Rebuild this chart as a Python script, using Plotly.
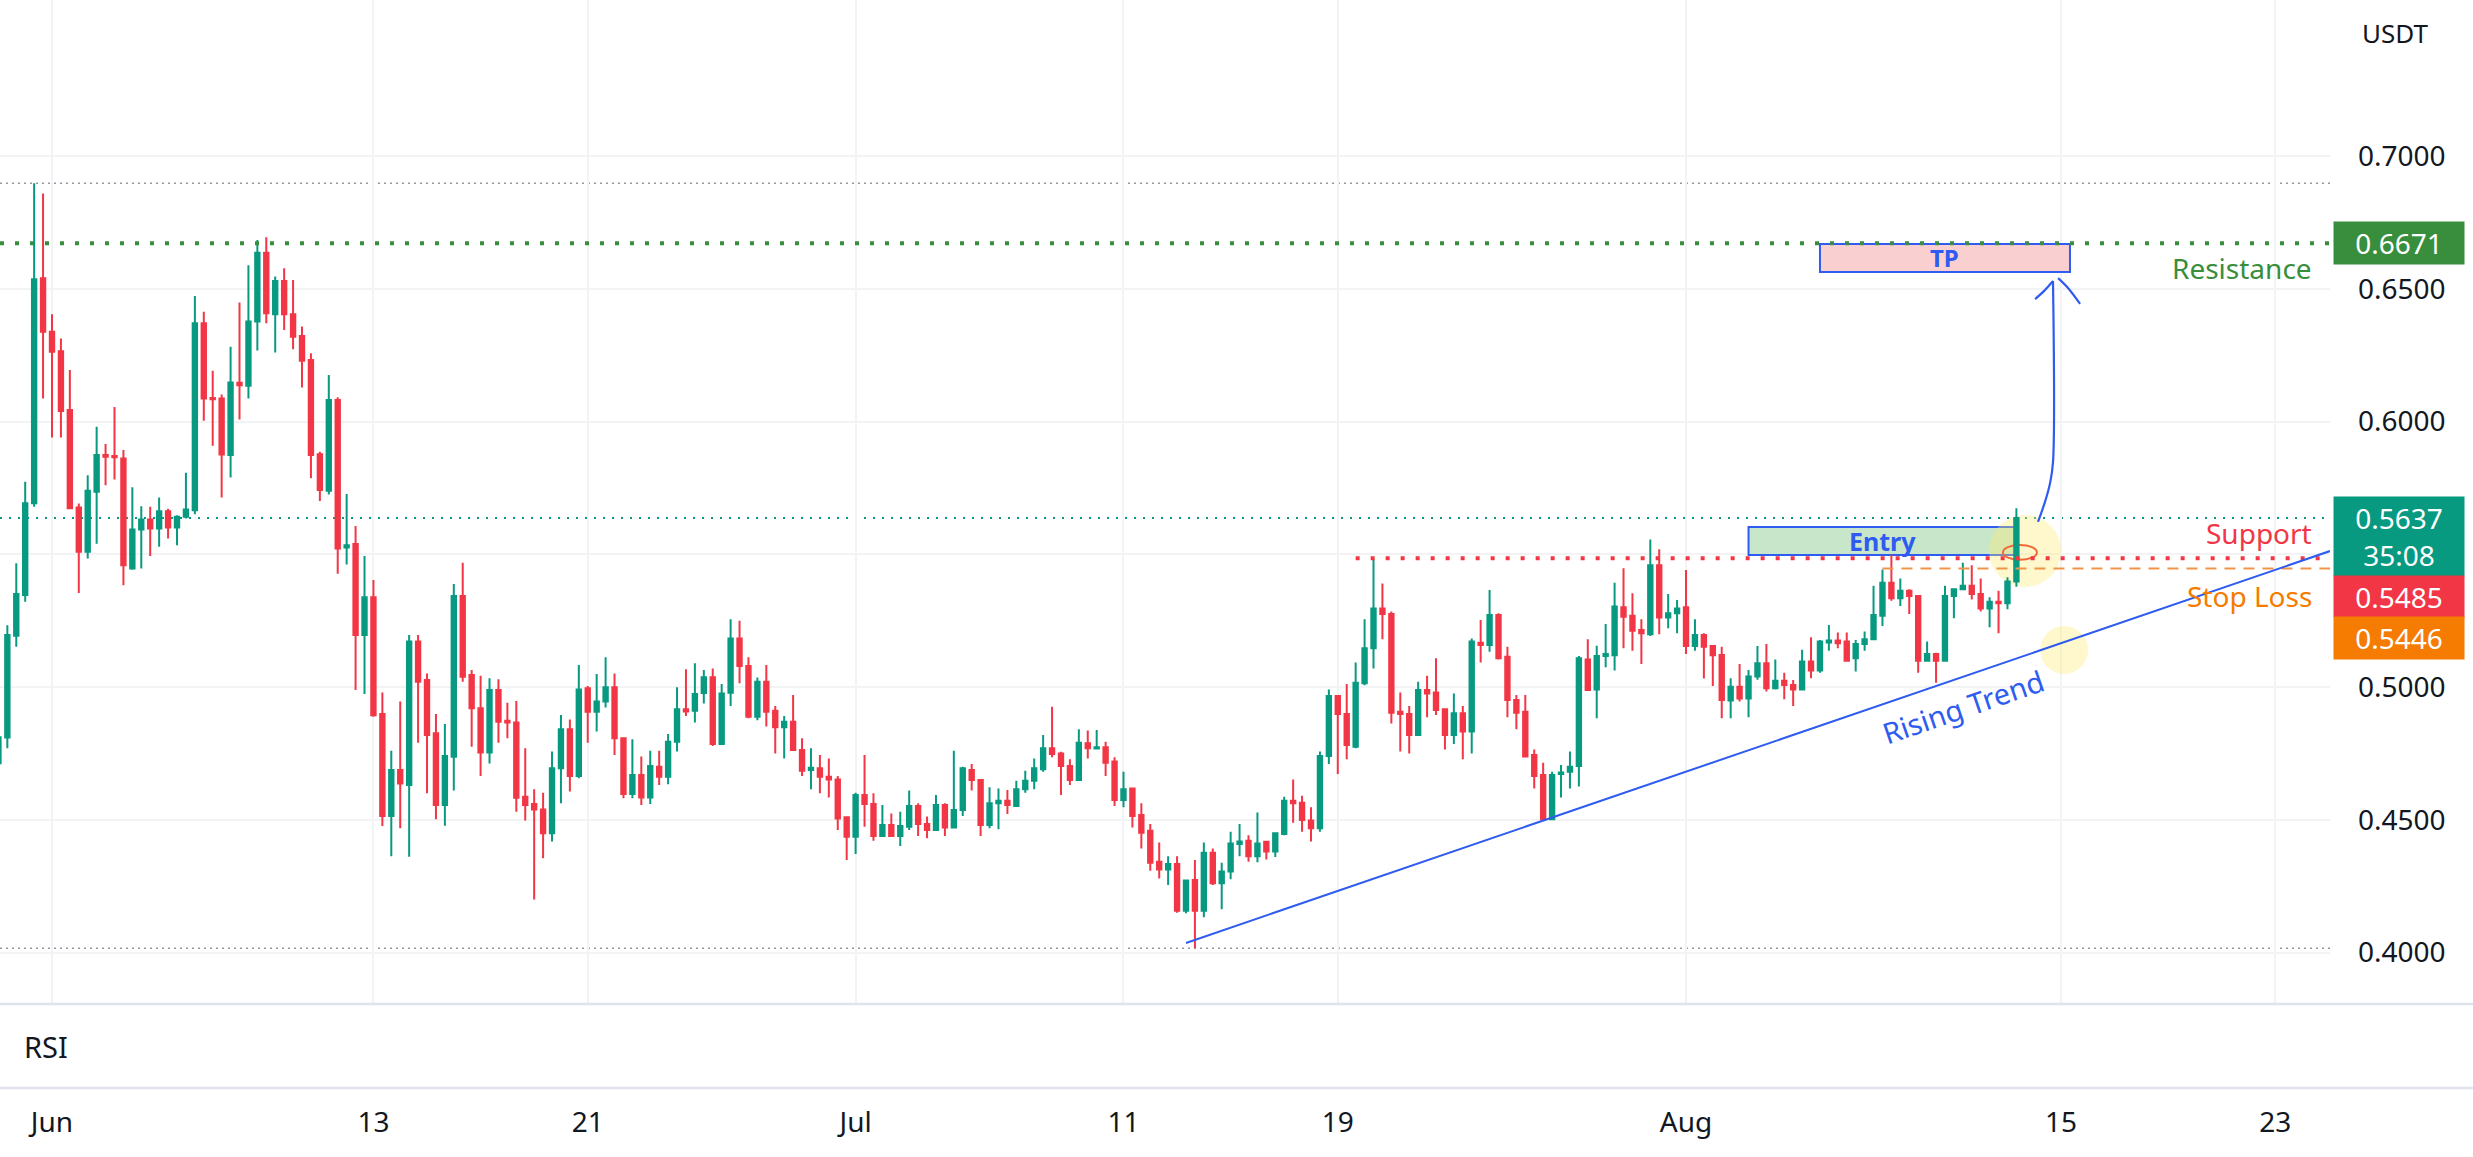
import pandas as pd
import plotly.graph_objects as go

# ------------------------------------------------------------------
# DATA  (8h candles, first candle 2023-05-30 00:00)
# ------------------------------------------------------------------
first_candle = "2023-05-30 00:00"

opens = [
    0.4713, 0.4810, 0.5193, 0.5347, 0.5692, 0.6540,
    0.6338, 0.6265, 0.6043, 0.5676, 0.5509, 0.5735, 0.5874, 0.5870, 0.5861, 0.5446,
    0.5593, 0.5631, 0.5597, 0.5662, 0.5601, 0.5641, 0.5666, 0.6370, 0.6089, 0.6087,
    0.5874, 0.6146, 0.6135, 0.6377, 0.6636, 0.6404, 0.6529, 0.6404, 0.6322, 0.6232,
    0.5877, 0.5739, 0.6081, 0.5525, 0.5539, 0.5196, 0.5338, 0.4898, 0.4514, 0.4687,
    0.4631, 0.5171, 0.5026, 0.4826, 0.4556, 0.4737, 0.5343, 0.5045, 0.4920, 0.4753,
    0.4989, 0.4873, 0.4866, 0.4587, 0.4559, 0.4539, 0.4449, 0.4694, 0.4841, 0.4665,
    0.4995, 0.4907, 0.4945, 0.4999, 0.4807, 0.4597, 0.4669, 0.4584, 0.4700, 0.4662,
    0.4794, 0.4916, 0.4911, 0.4977, 0.5037, 0.4785, 0.4978, 0.5183, 0.5079, 0.4888,
    0.5020, 0.4911, 0.4848, 0.4869, 0.4763, 0.4687, 0.4694, 0.4662, 0.4652, 0.4509,
    0.4436, 0.4593, 0.4559, 0.4439, 0.4480, 0.4439, 0.4474, 0.4552, 0.4484, 0.4461,
    0.4556, 0.4471, 0.4537, 0.4687, 0.4650, 0.4480, 0.4562, 0.4572, 0.4552, 0.4615,
    0.4647, 0.4690, 0.4769, 0.4750, 0.4702, 0.4650, 0.4788, 0.4768, 0.4773, 0.4719,
    0.4574, 0.4618, 0.4518, 0.4459, 0.4342, 0.4313, 0.4333, 0.4157, 0.4273, 0.4157,
    0.4376, 0.4261, 0.4305, 0.4409, 0.4421, 0.4363, 0.4417, 0.4380, 0.4446, 0.4572,
    0.4564, 0.4497, 0.4468, 0.4740, 0.4966, 0.4898, 0.4775, 0.5014, 0.5146, 0.5296,
    0.5275, 0.4907, 0.4898, 0.4819, 0.4989, 0.4979, 0.4916, 0.4819, 0.4901, 0.4832,
    0.5167, 0.5158, 0.5271, 0.5114, 0.4951, 0.4907, 0.4744, 0.4669, 0.4502, 0.4672,
    0.4681, 0.4702, 0.5104, 0.4991, 0.5117, 0.5120, 0.5300, 0.5268, 0.5215, 0.5199,
    0.5459, 0.5262, 0.5278, 0.5300, 0.5154, 0.5196, 0.5154, 0.5121, 0.4949, 0.5001,
    0.4957, 0.5040, 0.5089, 0.4995, 0.5024, 0.5008, 0.4991, 0.5096, 0.5062, 0.5168,
    0.5175, 0.5171, 0.5108, 0.5162, 0.5180, 0.5268, 0.5393, 0.5334, 0.5363, 0.5343,
    0.5099, 0.5124, 0.5099, 0.5343, 0.5368, 0.5381, 0.5350, 0.5296, 0.5321, 0.5315,
    0.5397,
]
highs = [
    0.4830, 0.5233, 0.5466, 0.5773, 0.6897, 0.6859,
    0.6404, 0.6313, 0.6194, 0.5691, 0.5798, 0.5980, 0.5915, 0.6055, 0.5893, 0.5752,
    0.5681, 0.5679, 0.5714, 0.5671, 0.5647, 0.5807, 0.6473, 0.6413, 0.6191, 0.6102,
    0.6282, 0.6448, 0.6589, 0.6684, 0.6694, 0.6546, 0.6577, 0.6533, 0.6358, 0.6257,
    0.5886, 0.6175, 0.6091, 0.5727, 0.5606, 0.5493, 0.5403, 0.4979, 0.4760, 0.4945,
    0.5196, 0.5196, 0.5051, 0.4898, 0.4861, 0.5388, 0.5468, 0.5064, 0.5042, 0.5033,
    0.5029, 0.4941, 0.4947, 0.4769, 0.4615, 0.4602, 0.4757, 0.4895, 0.4878, 0.5083,
    0.5004, 0.5049, 0.5112, 0.5051, 0.4807, 0.4803, 0.4738, 0.4760, 0.4760, 0.4823,
    0.4999, 0.5067, 0.5089, 0.5064, 0.5070, 0.5011, 0.5255, 0.5250, 0.5112, 0.5036,
    0.5083, 0.4928, 0.4891, 0.4970, 0.4807, 0.4769, 0.4744, 0.4731, 0.4665, 0.4511,
    0.4602, 0.4744, 0.4600, 0.4556, 0.4524, 0.4530, 0.4610, 0.4562, 0.4512, 0.4593,
    0.4562, 0.4760, 0.4700, 0.4710, 0.4652, 0.4622, 0.4618, 0.4612, 0.4647, 0.4685,
    0.4731, 0.4819, 0.4926, 0.4756, 0.4728, 0.4841, 0.4836, 0.4838, 0.4794, 0.4735,
    0.4681, 0.4618, 0.4562, 0.4484, 0.4414, 0.4363, 0.4363, 0.4273, 0.4348, 0.4414,
    0.4392, 0.4338, 0.4455, 0.4484, 0.4442, 0.4527, 0.4421, 0.4452, 0.4587, 0.4652,
    0.4590, 0.4547, 0.4757, 0.4991, 0.4970, 0.5011, 0.5092, 0.5255, 0.5481, 0.5390,
    0.5284, 0.4979, 0.4928, 0.5020, 0.5042, 0.5108, 0.4920, 0.4976, 0.4928, 0.5183,
    0.5252, 0.5365, 0.5278, 0.5152, 0.4970, 0.4970, 0.4765, 0.4715, 0.4681, 0.4706,
    0.4757, 0.5117, 0.5180, 0.5155, 0.5237, 0.5393, 0.5447, 0.5353, 0.5255, 0.5556,
    0.5519, 0.5350, 0.5328, 0.5441, 0.5255, 0.5202, 0.5158, 0.5152, 0.5033, 0.5087,
    0.5064, 0.5154, 0.5162, 0.5104, 0.5054, 0.5026, 0.5140, 0.5187, 0.5177, 0.5234,
    0.5205, 0.5205, 0.5177, 0.5209, 0.5381, 0.5443, 0.5497, 0.5409, 0.5368, 0.5347,
    0.5171, 0.5129, 0.5381, 0.5368, 0.5468, 0.5459, 0.5409, 0.5338, 0.5363, 0.5413,
    0.5673,
]
lows = [
    0.4690, 0.4769, 0.5152, 0.5321, 0.5679, 0.6087,
    0.5940, 0.5940, 0.5673, 0.5354, 0.5484, 0.5540, 0.5760, 0.5782, 0.5383, 0.5442,
    0.5446, 0.5493, 0.5528, 0.5559, 0.5534, 0.5635, 0.5651, 0.6003, 0.5909, 0.5714,
    0.5789, 0.6008, 0.6087, 0.6267, 0.6370, 0.6260, 0.6345, 0.6272, 0.6128, 0.5786,
    0.5701, 0.5725, 0.5427, 0.5461, 0.4989, 0.4974, 0.4888, 0.4476, 0.4363, 0.4468,
    0.4361, 0.4790, 0.4600, 0.4502, 0.4477, 0.4610, 0.5020, 0.4775, 0.4665, 0.4712,
    0.4790, 0.4807, 0.4530, 0.4497, 0.4200, 0.4355, 0.4418, 0.4562, 0.4606, 0.4656,
    0.4790, 0.4832, 0.4923, 0.4744, 0.4581, 0.4581, 0.4556, 0.4559, 0.4631, 0.4634,
    0.4757, 0.4891, 0.4866, 0.4938, 0.4778, 0.4782, 0.4928, 0.5014, 0.4882, 0.4875,
    0.4851, 0.4750, 0.4731, 0.4760, 0.4665, 0.4615, 0.4600, 0.4584, 0.4461, 0.4348,
    0.4371, 0.4474, 0.4421, 0.4436, 0.4436, 0.4401, 0.4461, 0.4439, 0.4430, 0.4459,
    0.4439, 0.4468, 0.4514, 0.4610, 0.4439, 0.4468, 0.4464, 0.4522, 0.4549, 0.4602,
    0.4615, 0.4681, 0.4735, 0.4593, 0.4631, 0.4647, 0.4731, 0.4766, 0.4665, 0.4552,
    0.4547, 0.4471, 0.4392, 0.4308, 0.4279, 0.4254, 0.4150, 0.4148, 0.4016, 0.4133,
    0.4254, 0.4163, 0.4276, 0.4363, 0.4342, 0.4340, 0.4350, 0.4360, 0.4442, 0.4489,
    0.4455, 0.4418, 0.4455, 0.4710, 0.4672, 0.4728, 0.4769, 0.5007, 0.5070, 0.5180,
    0.4863, 0.4757, 0.4750, 0.4816, 0.4886, 0.4895, 0.4765, 0.4785, 0.4728, 0.4750,
    0.5092, 0.5133, 0.5104, 0.4886, 0.4841, 0.4735, 0.4618, 0.4502, 0.4502, 0.4584,
    0.4618, 0.4625, 0.4986, 0.4882, 0.5074, 0.5062, 0.5146, 0.5137, 0.5087, 0.5192,
    0.5199, 0.5221, 0.5202, 0.5124, 0.5137, 0.5032, 0.5004, 0.4882, 0.4882, 0.4945,
    0.4886, 0.5027, 0.4983, 0.4991, 0.4954, 0.4928, 0.4989, 0.5033, 0.5054, 0.5137,
    0.5146, 0.5095, 0.5058, 0.5137, 0.5177, 0.5230, 0.5325, 0.5305, 0.5275, 0.5054,
    0.5095, 0.5016, 0.5095, 0.5259, 0.5366, 0.5330, 0.5284, 0.5225, 0.5202, 0.5293,
    0.5378,
]
closes = [
    0.4811, 0.5196, 0.5350, 0.5692, 0.6536, 0.6338,
    0.6263, 0.6040, 0.5673, 0.5509, 0.5739, 0.5874, 0.5867, 0.5865, 0.5459, 0.5593,
    0.5631, 0.5597, 0.5662, 0.5601, 0.5641, 0.5669, 0.6370, 0.6087, 0.6084, 0.5876,
    0.6147, 0.6137, 0.6377, 0.6636, 0.6408, 0.6529, 0.6404, 0.6319, 0.6229, 0.5874,
    0.5742, 0.6081, 0.5522, 0.5534, 0.5196, 0.5338, 0.4894, 0.4514, 0.4687, 0.4637,
    0.5171, 0.5020, 0.4819, 0.4556, 0.4740, 0.5343, 0.5039, 0.4920, 0.4753, 0.4989,
    0.4869, 0.4866, 0.4583, 0.4556, 0.4539, 0.4449, 0.4694, 0.4841, 0.4665, 0.4991,
    0.4907, 0.4945, 0.4999, 0.4807, 0.4597, 0.4669, 0.4584, 0.4702, 0.4662, 0.4794,
    0.4916, 0.4908, 0.4974, 0.5037, 0.4785, 0.4976, 0.5183, 0.5079, 0.4888, 0.5020,
    0.4907, 0.4848, 0.4869, 0.4763, 0.4685, 0.4696, 0.4662, 0.4652, 0.4505, 0.4436,
    0.4593, 0.4559, 0.4439, 0.4480, 0.4439, 0.4476, 0.4552, 0.4484, 0.4461, 0.4556,
    0.4471, 0.4537, 0.4694, 0.4650, 0.4480, 0.4562, 0.4572, 0.4556, 0.4615, 0.4647,
    0.4694, 0.4769, 0.4748, 0.4702, 0.4650, 0.4790, 0.4769, 0.4773, 0.4715, 0.4574,
    0.4615, 0.4514, 0.4451, 0.4338, 0.4313, 0.4333, 0.4157, 0.4271, 0.4157, 0.4376,
    0.4261, 0.4305, 0.4411, 0.4418, 0.4363, 0.4411, 0.4380, 0.4449, 0.4572, 0.4562,
    0.4499, 0.4468, 0.4740, 0.4966, 0.4898, 0.4782, 0.5016, 0.5146, 0.5296, 0.5275,
    0.4903, 0.4898, 0.4819, 0.4989, 0.4976, 0.4913, 0.4819, 0.4901, 0.4832, 0.5171,
    0.5158, 0.5271, 0.5108, 0.4951, 0.4903, 0.4738, 0.4665, 0.4502, 0.4669, 0.4678,
    0.4700, 0.5108, 0.4989, 0.5117, 0.5124, 0.5303, 0.5265, 0.5212, 0.5202, 0.5459,
    0.5262, 0.5278, 0.5296, 0.5154, 0.5196, 0.5152, 0.5120, 0.4951, 0.5001, 0.4957,
    0.5040, 0.5089, 0.4995, 0.5024, 0.5008, 0.4991, 0.5096, 0.5062, 0.5171, 0.5175,
    0.5165, 0.5099, 0.5162, 0.5180, 0.5271, 0.5393, 0.5334, 0.5363, 0.5343, 0.5099,
    0.5124, 0.5099, 0.5343, 0.5368, 0.5381, 0.5350, 0.5296, 0.5321, 0.5315, 0.5397,
    0.5637,
]

x_range = ["2023-05-30 01:25", "2023-08-25 00:58"]
tick_dates = ["2023-06-01", "2023-06-13", "2023-06-21", "2023-07-01", "2023-07-11",
              "2023-07-19", "2023-08-01", "2023-08-15", "2023-08-23"]
tick_labels = ["Jun", "13", "21", "Jul", "11", "19", "Aug", "15", "23"]
y_range = [0.38098, 0.75876]
price_ticks = [0.40, 0.45, 0.50, 0.55, 0.60, 0.65, 0.70]
price_tick_labels = ["0.4000", "0.4500", "0.5000", "", "0.6000", "0.6500", "0.7000"]

resistance = 0.6671
support = 0.5485
stop_loss = 0.5446
last_price = 0.5637
countdown = "35:08"
support_start = "2023-07-19 16:00"
stop_start = "2023-08-08 08:00"

entry_box = {"x0": "2023-08-03 08:00", "x1": "2023-08-13 08:00", "y0": 0.5497, "y1": 0.5603}
tp_box = {"x0": "2023-08-06 00:00", "x1": "2023-08-15 08:00", "y0": 0.6563, "y1": 0.6669}
trend_start = ("2023-07-13 08:00", 0.4036)
trend_end = (x_range[1], 0.5512)
trend_label = ("2023-08-11 08:10", 0.4925)

# hand-drawn arrow (days after Jun 1, price)
arrow_days = [74.14, 74.40, 74.59, 74.70, 74.70]
arrow_prices = [0.5622, 0.5697, 0.5768, 0.5847, 0.6529]
head_left_days = [74.03, 74.37, 74.70]
head_left_prices = [0.6461, 0.6492, 0.6529]
head_right_days = [74.89, 75.26, 75.71]
head_right_prices = [0.6540, 0.6503, 0.6443]

# highlight circles (days after Jun 1, price)
circles = [
    (72.31, 75.00, 0.5377, 0.5648),
    (74.22, 76.01, 0.5049, 0.5230),
]
scribble = (72.83, 74.10, 0.5479, 0.5535)

# ------------------------------------------------------------------
UP = "#089981"
DOWN = "#F23645"
BLUE = "#2E5BF0"
GREEN = "#388E3C"
ORANGE = "#F57C00"
GRID = "#F2F3F5"
TXT = "#131722"
FONT = "Noto Sans"

W, H = 2473, 1157
PLOT_R = 2330      # right edge of the chart pane (px)
MAIN_B = 1003      # bottom of the main pane (px)
RSI_T, RSI_B = 1005, 1088

base = pd.Timestamp("2023-06-01")


def day(d):
    return base + pd.Timedelta(days=d)


times = pd.date_range(first_candle, periods=len(opens), freq="8h")

fig = go.Figure()
fig.add_trace(go.Candlestick(
    x=times, open=opens, high=highs, low=lows, close=closes,
    increasing=dict(line=dict(color=UP, width=2), fillcolor=UP),
    decreasing=dict(line=dict(color=DOWN, width=2), fillcolor=DOWN),
    whiskerwidth=0, xaxis="x", yaxis="y", hoverinfo="skip", showlegend=False,
))

# hand drawn arrow
for xs, ys in [(arrow_days, arrow_prices), (head_left_days, head_left_prices),
               (head_right_days, head_right_prices)]:
    fig.add_trace(go.Scatter(
        x=[day(d) for d in xs], y=ys, mode="lines",
        line=dict(color=BLUE, width=2.2, shape="spline"), hoverinfo="skip", showlegend=False))

# empty trace for the RSI pane
fig.add_trace(go.Scatter(x=[times[0]], y=[None], xaxis="x2", yaxis="y2",
                         mode="lines", showlegend=False, hoverinfo="skip"))

shapes = []
# highest / lowest dotted lines
for lvl in (max(highs), min(lows)):
    shapes.append(dict(type="line", xref="paper", x0=0, x1=1, yref="y", y0=lvl, y1=lvl,
                       line=dict(color="#9598A1", width=1.5, dash="2px,4px"), layer="between"))
# current price line
shapes.append(dict(type="line", xref="paper", x0=0, x1=1, yref="y", y0=last_price, y1=last_price,
                   line=dict(color=UP, width=2, dash="2px,7px"), layer="between"))
# entry / tp boxes
shapes.append(dict(type="rect", xref="x", yref="y", **entry_box,
                   fillcolor="#C8E6C9", line=dict(color=BLUE, width=2), layer="between"))
shapes.append(dict(type="rect", xref="x", yref="y", **tp_box,
                   fillcolor="#F9CFCF", line=dict(color=BLUE, width=2), layer="between"))
# highlight circles
for d0, d1, p0, p1 in circles:
    shapes.append(dict(type="circle", xref="x", yref="y", x0=day(d0), x1=day(d1), y0=p0, y1=p1,
                       fillcolor="rgba(255,235,110,0.35)", line=dict(width=0), layer="between"))
shapes.append(dict(type="circle", xref="x", yref="y", x0=day(scribble[0]), x1=day(scribble[1]),
                   y0=scribble[2], y1=scribble[3], fillcolor="rgba(0,0,0,0)",
                   line=dict(color="#F06A3A", width=2), layer="between"))
# resistance / support / stop loss
shapes.append(dict(type="line", xref="paper", x0=0, x1=1, yref="y", y0=resistance, y1=resistance,
                   line=dict(color=GREEN, width=4, dash="4px,11px"), layer="above"))
shapes.append(dict(type="line", xref="x", x0=support_start, x1=x_range[1], yref="y", y0=support, y1=support,
                   line=dict(color=DOWN, width=4, dash="4px,11px"), layer="above"))
shapes.append(dict(type="line", xref="x", x0=stop_start, x1=x_range[1], yref="y", y0=stop_loss, y1=stop_loss,
                   line=dict(color="#F0944A", width=2, dash="11px,8px"), layer="above"))
# rising trend line
shapes.append(dict(type="line", xref="x", yref="y", x0=trend_start[0], y0=trend_start[1],
                   x1=trend_end[0], y1=trend_end[1], line=dict(color=BLUE, width=2), layer="above"))
# pane separators
for yy in (MAIN_B + 1, RSI_B):
    shapes.append(dict(type="line", xref="paper", yref="paper", x0=0, x1=W / PLOT_R,
                       y0=1 - yy / H, y1=1 - yy / H, line=dict(color="#E0E3EB", width=2.5)))

ann = []


def txt(text, **kw):
    d = dict(text=text, showarrow=False, font=dict(family=FONT, size=28, color=TXT))
    if "font" in kw:
        d["font"].update(kw.pop("font"))
    d.update(kw)
    ann.append(d)


# line labels
txt("Resistance", xref="paper", x=2314 / PLOT_R, xanchor="right", yref="y", y=resistance,
    yanchor="middle", yshift=-25, font=dict(color=GREEN))
txt("Support", xref="paper", x=2314 / PLOT_R, xanchor="right", yref="y", y=support,
    yanchor="middle", yshift=25, font=dict(color=DOWN))
txt("Stop Loss", xref="paper", x=2314 / PLOT_R, xanchor="right", yref="y", y=stop_loss,
    yanchor="middle", yshift=-27, font=dict(color=ORANGE))
# box texts
mid = lambda a, b: pd.Timestamp(a) + (pd.Timestamp(b) - pd.Timestamp(a)) / 2
txt("<b>Entry</b>", xref="x", yref="y", x=mid(entry_box["x0"], entry_box["x1"]),
    y=(entry_box["y0"] + entry_box["y1"]) / 2, yanchor="middle", font=dict(color=BLUE, size=25))
txt("<b>TP</b>", xref="x", yref="y", x=mid(tp_box["x0"], tp_box["x1"]),
    y=(tp_box["y0"] + tp_box["y1"]) / 2, yanchor="middle", font=dict(color=BLUE, size=24))
txt("Rising Trend", xref="x", yref="y", x=trend_label[0], y=trend_label[1], textangle=-19,
    font=dict(color=BLUE, size=29))

# price-axis tags
tag_x = (PLOT_R + 3) / PLOT_R
for value, label, color, h, shift in [
    (resistance, f"{resistance:.4f}", GREEN, 42, 0),
    (last_price, f"{last_price:.4f}<br>{countdown}", UP, 79, -18.5),
    (support, f"{support:.4f}", DOWN, 41, -38),
    (stop_loss, f"{stop_loss:.4f}", ORANGE, 42, -69),
]:
    txt(label, xref="paper", x=tag_x, xanchor="left", yref="y", y=value, yanchor="middle",
        yshift=shift, width=130, height=h, bgcolor=color, borderpad=0, align="center",
        font=dict(color="#FFFFFF", size=28))

txt("USDT", xref="paper", x=2360 / PLOT_R, xanchor="left", yref="paper", y=1 - 33 / H,
    yanchor="middle", font=dict(size=26))
txt("RSI", xref="paper", x=22 / PLOT_R, xanchor="left", yref="paper", y=1 - 1046 / H,
    yanchor="middle", font=dict(size=29))

fig.update_layout(
    width=W, height=H,
    margin=dict(l=0, r=W - PLOT_R, t=0, b=0),
    paper_bgcolor="white", plot_bgcolor="white",
    font=dict(family=FONT, size=28, color=TXT),
    showlegend=False,
    xaxis=dict(type="date", range=x_range, domain=[0, 1], anchor="y",
               tickvals=tick_dates, ticktext=tick_labels, showticklabels=False,
               showgrid=True, gridcolor=GRID, gridwidth=1.5, zeroline=False,
               rangeslider=dict(visible=False), ticks="", showline=False),
    yaxis=dict(domain=[1 - MAIN_B / H, 1], range=y_range, side="right",
               tickvals=price_ticks, ticktext=price_tick_labels, ticks="",
               ticklabelstandoff=27, showgrid=True, gridcolor=GRID, gridwidth=1.5,
               zeroline=False, showline=False, tickfont=dict(size=28, color=TXT)),
    xaxis2=dict(type="date", matches="x", anchor="y2", range=x_range, domain=[0, 1],
                tickvals=tick_dates, ticktext=tick_labels, showgrid=False, ticks="",
                ticklabelstandoff=15, zeroline=False, showline=False,
                tickfont=dict(size=28, color=TXT), rangeslider=dict(visible=False)),
    yaxis2=dict(domain=[1 - RSI_B / H, 1 - RSI_T / H], range=[0, 1], showgrid=False,
                showticklabels=False, zeroline=False, ticks=""),
    shapes=shapes,
    annotations=ann,
    hovermode=False,
)

fig.write_html("out.html", config={"displayModeBar": False},
               post_script="document.body.style.margin='0';document.body.style.overflow='hidden';")
